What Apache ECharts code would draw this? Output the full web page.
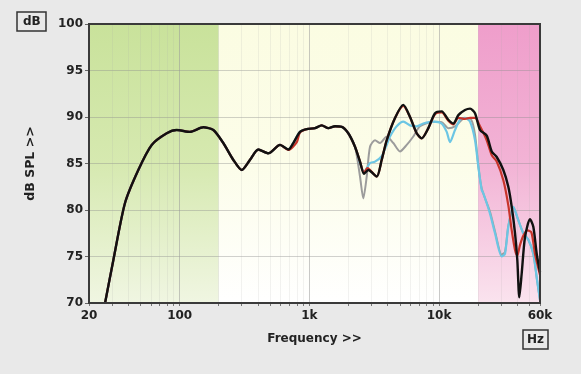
<!DOCTYPE html>
<html><head><meta charset="utf-8">
<script src="https://cdn.jsdelivr.net/npm/echarts@6/dist/echarts.min.js"></script>
<style>html,body{margin:0;padding:0;background:#e9e9e9}#c{width:581px;height:374px}</style>
</head><body><div id="c"></div>
<script>
// ---- data ----
const xLabelValues = [20, 100, 1000, 10000, 60000];
const xMinorValues = [20,30,40,50,60,70,80,90,100,200,300,400,500,600,700,800,900,1000,2000,3000,4000,5000,6000,7000,8000,9000,10000,20000,30000,40000,50000,60000];
const xMajorLines = [100, 1000, 10000];
const bandEdges = [20, 200, 20000, 60000];

const blackF = [26.6,30.8,37.9,48.0,60.9,79.5,94.9,120,152,182,217,259,301,349,404,483,594,688,752,847,954,1105,1245,1400,1577,1775,1997,2248,2457,2638,2847,3306,3612,3947,4575,5302,5970,6723,7348,8264,9305,10480,11785,12880,14080,15850,17320,18930,20690,23300,25460,27830,31290,34190,36320,38510,40120,41560,43370,45990,50250,53290,56590,60000];
const blackDB = [70.0,74.6,80.75,84.3,87.0,88.25,88.6,88.4,88.9,88.6,87.2,85.4,84.3,85.4,86.5,86.1,87.0,86.5,87.2,88.4,88.7,88.8,89.1,88.8,89.0,88.95,88.25,86.8,85.2,83.9,84.3,83.6,85.4,87.5,89.9,91.3,90.0,88.25,87.7,88.8,90.4,90.6,89.7,89.3,90.2,90.75,90.9,90.4,88.6,88.0,86.3,85.7,84.3,82.5,80.35,77.5,74.6,70.6,73.2,77.1,79.0,78.2,75.3,73.3];

const redF = [26.6,30.8,37.9,48.0,60.9,79.5,94.9,120,152,182,217,259,301,349,404,483,594,688,800,847,954,1105,1245,1400,1577,1775,1997,2248,2457,2638,2800,3306,3612,3947,4575,5302,5970,6723,7348,8264,9305,10480,11785,12880,14080,15850,17320,18930,20690,23300,25460,27830,31290,34190,36320,38510,40120,42000,44500,48000,51500,55000,60000];
const redDB = [70.0,74.6,80.75,84.3,87.0,88.25,88.6,88.4,88.9,88.6,87.2,85.4,84.3,85.4,86.5,86.1,87.0,86.45,87.3,88.35,88.7,88.8,89.1,88.8,89.0,88.95,88.25,86.8,85.2,84.0,84.5,83.6,85.4,87.5,89.9,91.2,90.0,88.25,87.7,88.8,90.3,90.5,89.6,89.2,89.9,89.8,89.9,89.9,89.0,87.5,85.9,85.2,83.2,80.5,77.8,75.7,75.1,76.2,77.2,77.8,77.6,75.2,73.0];

const cyanF = [26.6,30.8,37.9,48.0,60.9,79.5,94.9,120,152,182,217,259,301,349,404,483,594,688,752,847,954,1105,1245,1400,1577,1775,1997,2248,2457,2638,2935,3207,3612,3947,4184,4714,5302,5970,6723,7557,9028,10480,11455,12140,13270,14500,15850,17320,18930,20070,21320,21940,24700,27000,30410,32240,34190,37360,40830,44620,48770,53290,56900,60000];
const cyanDB = [70.0,74.6,80.75,84.3,87.0,88.25,88.6,88.4,88.9,88.6,87.2,85.4,84.3,85.4,86.5,86.1,87.0,86.5,87.2,88.4,88.7,88.8,89.1,88.8,89.0,88.95,88.25,86.8,85.05,84.1,85.05,85.2,85.8,87.0,87.9,89.0,89.5,89.1,89.0,89.3,89.5,89.3,88.4,87.3,88.6,89.7,89.9,89.5,87.5,84.65,82.15,81.8,79.6,77.5,75.0,75.3,78.2,80.35,78.9,77.5,76.8,75.3,72.5,70.3];

const grayF = [26.6,30.8,37.9,48.0,60.9,79.5,94.9,120,152,182,217,259,301,349,404,483,594,688,752,847,954,1105,1245,1400,1577,1775,1997,2248,2457,2606,2768,2935,3207,3505,3947,4439,4997,5630,6330,7131,9028,10480,11800,13270,15850,17700,18930,20070,21320,24700,27000,30410,32240,34190,37360,40830,44620,48770,53290,56900,60000];
const grayDB = [70.0,74.6,80.75,84.3,87.0,88.25,88.6,88.4,88.9,88.6,87.2,85.4,84.3,85.4,86.5,86.1,87.0,86.5,87.2,88.4,88.7,88.8,89.1,88.8,89.0,88.95,88.25,86.8,83.6,81.25,83.6,86.8,87.5,87.2,87.9,87.2,86.3,87.0,87.9,89.0,89.5,89.45,88.8,89.0,89.9,89.7,88.1,84.8,82.3,79.8,77.7,75.2,75.5,78.3,80.3,78.9,77.5,76.8,75.3,72.5,70.3];

const zip = (a, b) => a.map((v, i) => [v, b[i]]);

const grad = (top, mid, bottom) => ({type:'linear', x:0, y:0, x2:0, y2:1,
  colorStops:[{offset:0, color:top},{offset:0.5, color:mid},{offset:1, color:bottom}]});
const bandColors = [grad('#c9e29b','#d6e9b0','#f0f6e2'), grad('#fbfce2','#fcfde9','#ffffff'), grad('#ef9ecb','#f2b3d5','#fae3ee')];

const chart = echarts.init(document.getElementById('c'));
const FONT = 'DejaVu Sans, Verdana, sans-serif';
const lbl = {fontFamily:FONT, fontWeight:'bold', fontSize:12, color:'#222'};

chart.setOption({
  backgroundColor:'#e9e9e9',
  animation:false,
  title:[
    {text:'dB', left:17, top:12, padding:[4,6,3,6], borderColor:'#333', borderWidth:1.5,
     textStyle:Object.assign({}, lbl)},
    {text:'Hz', left:523, top:330, padding:[4,4,3,4], borderColor:'#333', borderWidth:1.5,
     textStyle:Object.assign({}, lbl)}
  ],
  grid:{left:89, top:24, width:451, height:279, show:true, backgroundColor:'transparent', borderColor:'#3a3a3a', borderWidth:2, z:6},
  xAxis:{
    type:'log', logBase:10, min:20, max:60000, z:3,
    name:'Frequency >>', nameLocation:'middle', nameGap:30, nameTextStyle:lbl,
    axisLine:{show:true, lineStyle:{color:'#3a3a3a', width:2}},
    axisTick:{show:true, length:3, lineStyle:{color:'#777'}, customValues:xMinorValues},
    axisLabel:Object.assign({}, lbl, {margin:7, customValues:xLabelValues,
      formatter:v => v >= 1000 ? (v/1000) + 'k' : String(v)}),
    splitLine:{show:true, lineStyle:{color:'rgba(170,170,170,0.15)', width:1}}
  },
  yAxis:{
    type:'value', min:70, max:100, interval:5, z:3,
    name:'dB SPL >>', nameLocation:'middle', nameGap:52, nameTextStyle:Object.assign({}, lbl, {fontSize:12.5}),
    axisLine:{show:true, lineStyle:{color:'#3a3a3a', width:2}},
    axisTick:{show:true, length:4, lineStyle:{color:'#666'}},
    axisLabel:Object.assign({}, lbl, {margin:6}),
    splitLine:{show:true, lineStyle:{color:'rgba(140,140,140,0.4)', width:1}}
  },
  series:[
    {type:'line', name:'bands', data:[], z:1, silent:true,
     markArea:{silent:true, data:[0,1,2].map(i => [
        {xAxis:bandEdges[i], yAxis:70, itemStyle:{color:bandColors[i]}},
        {xAxis:bandEdges[i+1], yAxis:100}])}},
    {type:'line', name:'majors', data:[], z:4, silent:true,
     markLine:{silent:true, symbol:'none', label:{show:false},
       lineStyle:{color:'rgba(150,150,150,0.45)', width:1, type:'solid'},
       data:xMajorLines.map(v => ({xAxis:v}))}},
    {type:'line', name:'gray', data:zip(grayF, grayDB), showSymbol:false, smooth:0.25,
     lineStyle:{color:'#9c9c9c', width:2}, z:5},
    {type:'line', name:'cyan', data:zip(cyanF, cyanDB), showSymbol:false, smooth:0.25,
     lineStyle:{color:'#6cc6e4', width:2.2}, z:5},
    {type:'line', name:'red', data:zip(redF, redDB), showSymbol:false, smooth:0.25,
     lineStyle:{color:'#c8342a', width:2.2}, z:5},
    {type:'line', name:'black', data:zip(blackF, blackDB), showSymbol:false, smooth:0.25,
     lineStyle:{color:'#111111', width:2.4}, z:5}
  ]
});
</script></body></html>
